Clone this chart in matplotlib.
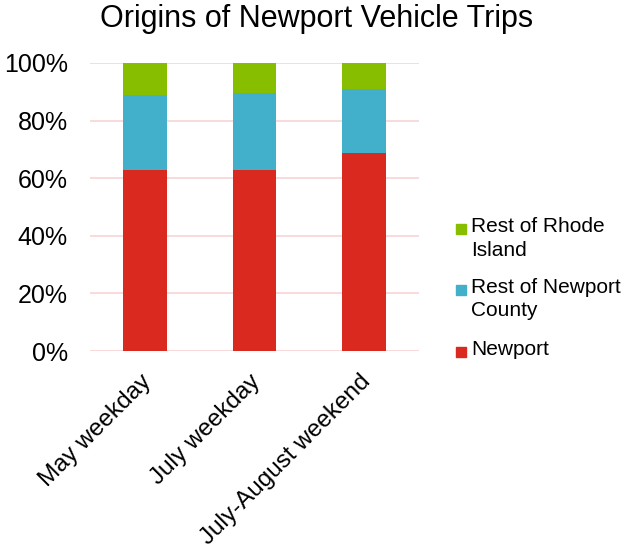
'''
Stacked share of Newport vehicle trips by origin
'''
import matplotlib
matplotlib.use('Agg')
import matplotlib.pyplot as plt
import matplotlib.ticker as mticker
import matplotlib.transforms as mtrans
from matplotlib.patches import Rectangle

plt.rcParams['font.family'] = ['Liberation Sans', 'DejaVu Sans']

# --------------------------------
days    = ['May weekday', 'July weekday', 'July-August weekend']
newport = [62.8, 62.8, 68.6]
county  = [26.2, 26.8, 22.5]
rhode   = [11.0, 10.4,  8.9]

series  = ['Newport', 'Rest of Newport County', 'Rest of Rhode Island']
labels  = ['Newport', 'Rest of Newport\nCounty', 'Rest of Rhode\nIsland']
colors  = ['#DA291F', '#42B0CB', '#88BE00']
# --------------------------------
def main():
    fig = plt.figure(figsize=(6.26, 5.5), dpi=100)
    ax  = fig.add_axes([0.1438, 0.3618, 0.5255, 0.5237])

    xpos   = range(len(days))
    bottom = [0.0] * len(days)
    for vals, col in zip([newport, county, rhode], colors):
        ax.bar(xpos, vals, width=0.4, bottom=bottom, color=col, zorder=3)
        bottom = [b + v for b, v in zip(bottom, vals)]

    ax.set_xlim(-0.5, 2.5)
    ax.set_ylim(0, 100)
    ax.set_yticks(range(0, 101, 20))
    ax.yaxis.set_major_formatter(mticker.FuncFormatter(lambda v, _: f'{v:.0f}%'))
    ax.grid(axis='y', color='#F8D4D4', linewidth=1.2, zorder=0)
    for sp in ax.spines.values():
        sp.set_visible(False)

    ax.set_xticks(list(xpos))
    ax.set_xticklabels(days, rotation=45, ha='right', rotation_mode='anchor', fontsize=17.5)
    ax.tick_params(axis='x', length=0, pad=14)
    ax.tick_params(axis='y', length=0, pad=16, labelsize=18)
    shift = mtrans.ScaledTranslation(-5 / 100, 0, fig.dpi_scale_trans)
    for lbl in ax.get_xticklabels():
        lbl.set_transform(lbl.get_transform() + shift)

    fig.text(0.505, 0.966, 'Origins of Newport Vehicle Trips', ha='center', va='center', fontsize=22)

    # legend, top entry first
    ys = [352, 290, 229]
    for lab, col, y in zip(labels, colors, ys):
        fy = 1 - y / 550
        fig.patches.append(Rectangle((456 / 626, fy - 5 / 550), 10 / 626, 10 / 550,
                                     transform=fig.transFigure, color=col))
        fig.text(471 / 626, fy + 12 / 550, lab, ha='left', va='top', fontsize=15,
                 linespacing=1.3)

    fig.savefig('out.png', dpi=100)
# --------------------------------
if __name__ == '__main__':
    main()
